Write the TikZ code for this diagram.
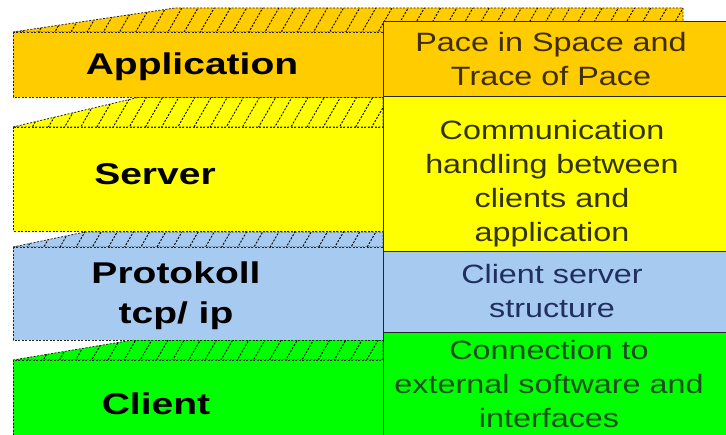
\documentclass[tikz,border=0pt]{standalone}
\usepackage{fontspec}
\setmainfont{Liberation Sans}
\newfontfamily\layerfont[FakeStretch=1.3]{Liberation Sans}
\newfontfamily\notefont[FakeStretch=1.22]{Liberation Sans}
\usepackage{xcolor}
\usepackage{tikz}
\usetikzlibrary{patterns.meta}
\definecolor{appcol}{HTML}{FFCC00}
\definecolor{srvcol}{HTML}{FFFF00}
\definecolor{protcol}{HTML}{A6CAF0}
\definecolor{clicol}{HTML}{00FF00}
\definecolor{apptext}{HTML}{3F2E00}
\definecolor{srvtext}{HTML}{333300}
\definecolor{prottext}{HTML}{1F2F5F}
\definecolor{clitext}{HTML}{1F4F1F}
\tikzset{
    frontface/.style={
        draw=black!85,
        line width=0.8pt,
        dash pattern=on 2pt off 1.5pt
    },
    topface/.style={
        draw=black!85,
        line width=0.8pt,
        dash pattern=on 2pt off 1.5pt,
        pattern={Lines[angle=60, distance=14pt, line width=0.9pt]},
        pattern color=black
    },
    notebox/.style={
        draw=black!85,
        line width=1pt
    },
    layer/.style={
        inner sep=0pt,
        font=\layerfont\bfseries\fontsize{30}{40}\selectfont,
        align=center
    },
    note/.style={
        inner sep=0pt,
        font=\notefont\fontsize{26.5}{34}\selectfont,
        align=center
    }
}

\begin{document}
\begin{tikzpicture}[x=1pt, y=-1pt]

\useasboundingbox (0,0) rectangle (726,435);
\fill[white] (0,0) rectangle (726,435);
\clip (0,0) rectangle (726,435);

% Top faces (hatched)
\path[topface, preaction={fill=appcol}] (13,32) -- (175,8) -- (683,8) -- (683,32) -- cycle;
\path[topface, preaction={fill=srvcol}] (13,127) -- (140,97) -- (383,97) -- (383,127) -- cycle;
\path[topface, preaction={fill=protcol}] (13,247) -- (85,232) -- (383,232) -- (383,247) -- cycle;
\path[topface, preaction={fill=clicol}] (13,360) -- (133,340) -- (383,340) -- (383,360) -- cycle;

% Front faces
\draw[frontface, fill=appcol] (13,32) rectangle (383,97);
\draw[frontface, fill=srvcol] (13,127) rectangle (383,231);
\draw[frontface, fill=protcol] (13,247) rectangle (383,340);
\draw[frontface, fill=clicol] (13,360) rectangle (383,440);

% Description boxes
\draw[notebox, fill=appcol] (383,22) rectangle (730,97);
\draw[notebox, fill=srvcol] (383,97) rectangle (730,252);
\draw[notebox, fill=protcol] (383,252) rectangle (730,333);
\draw[notebox, fill=clicol] (383,333) rectangle (730,440);

% Layer names
\node[layer, anchor=base] (appl) at (192,75) {Application};
\node[layer, anchor=base] (serv) at (155,185) {Server};
\node[layer] (prot) at (176,295.5) {Protokoll\\tcp/ ip};
\node[layer, anchor=base] (clnt) at (156,415) {Client};

% Descriptions
\node[note, text=apptext] (appnote) at (551,59) {Pace in Space and\\Trace of Pace};
\node[note, text=srvtext] (srvnote) at (552,184) {Communication\\handling between\\clients and\\application};
\node[note, text=prottext] (protnote) at (552,291) {Client server\\structure};
\node[note, text=clitext] (clinote) at (549,384) {Connection to\\external software and\\interfaces};

\end{tikzpicture}
\end{document}
